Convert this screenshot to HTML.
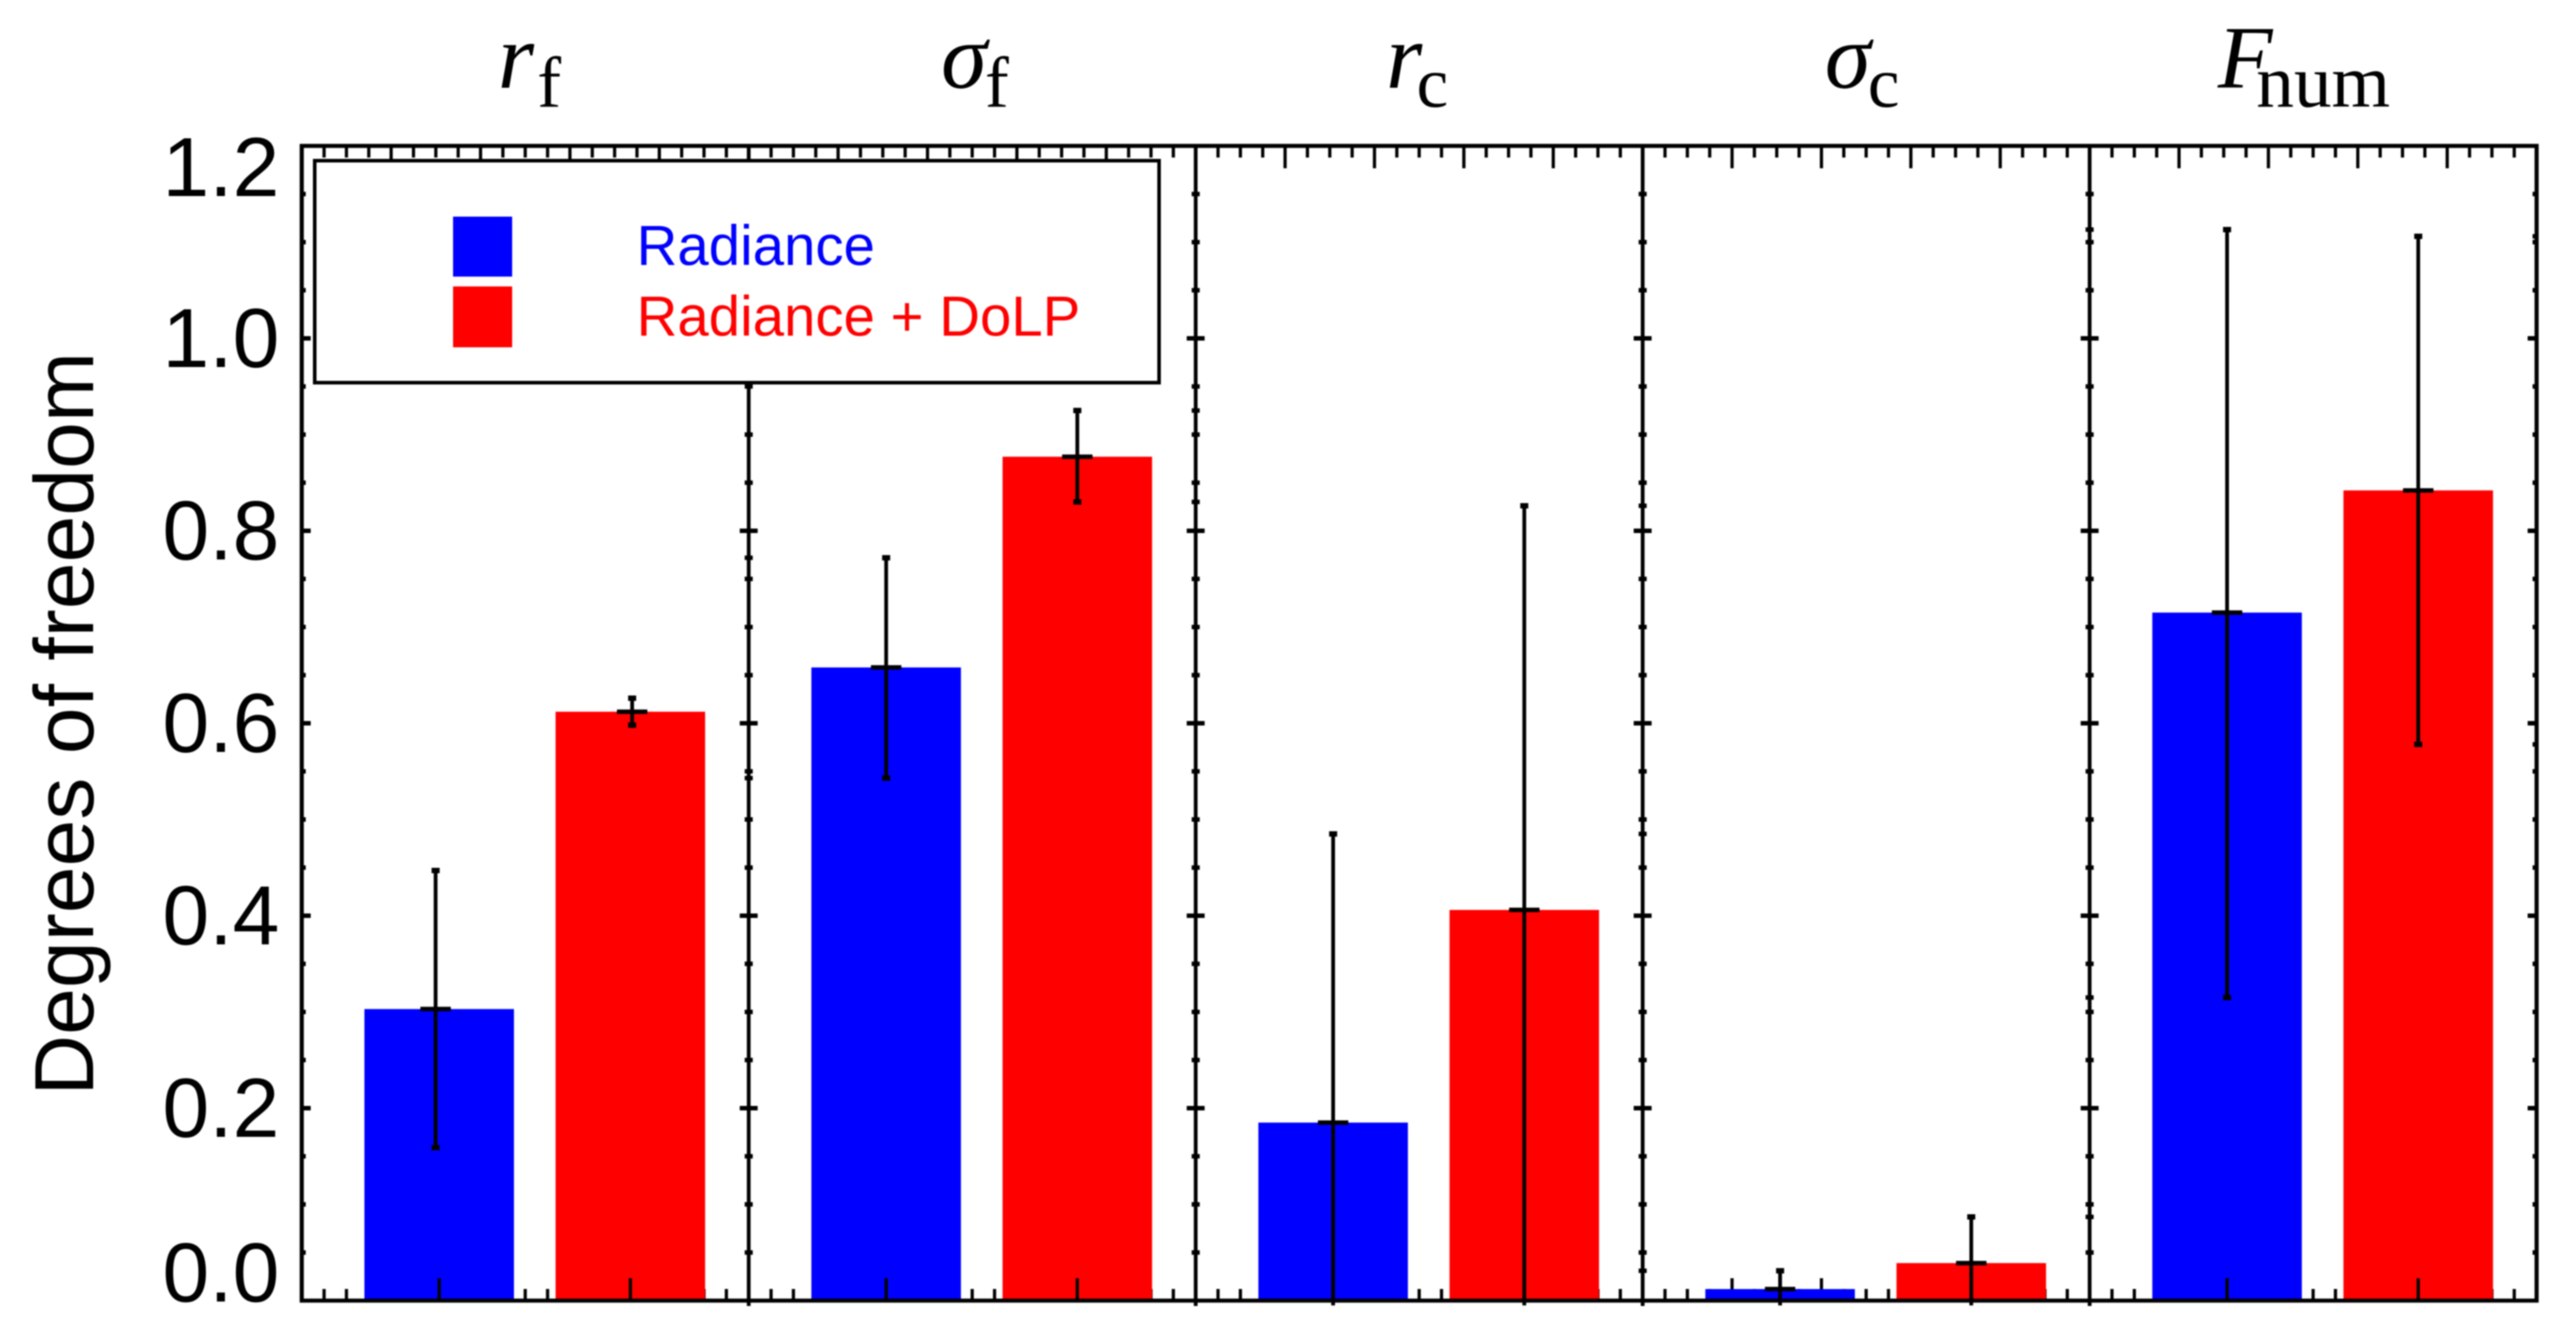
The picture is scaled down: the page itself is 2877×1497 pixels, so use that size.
<!DOCTYPE html>
<html lang="en">
<head>
<meta charset="utf-8">
<title>Degrees of freedom by parameter</title>
<style>
  html, body { margin: 0; padding: 0; background: #fff; }
  body { width: 2877px; height: 1497px; overflow: hidden; }
  svg { display: block; filter: blur(0.7px); }
  .sans { font-family: "Liberation Sans", Arial, sans-serif; }
  .serif { font-family: "Liberation Serif", "Times New Roman", serif; fill: #000; }
</style>
</head>
<body>
<svg id="chart" xmlns="http://www.w3.org/2000/svg" width="2877" height="1497" viewBox="0 0 2877 1497">
  <rect x="0" y="0" width="2877" height="1497" fill="#fff"/>
  <g id="frame-layer"></g>
  <g id="bar-layer"></g>
  <g id="front-layer"></g>

  <g id="legend">
    <rect x="351.5" y="179.5" width="943" height="248" fill="#fff" stroke="#000" stroke-width="4"/>
    <rect x="506" y="242" width="66" height="67" fill="#0000ff"/>
    <rect x="506" y="320" width="66" height="68" fill="#ff0000"/>
    <text class="sans" x="711" y="296" font-size="63" fill="#0000ff">Radiance</text>
    <text class="sans" x="711" y="375" font-size="63" fill="#ff0000">Radiance + DoLP</text>
  </g>

  <g>
    <g>
      <text class="serif" x="556" y="98" font-size="104" font-style="italic">r</text>
      <text class="serif" x="600" y="119" font-size="80">f</text>
    </g>
    <g>
      <text class="serif" x="1051" y="98" font-size="104" font-style="italic">σ</text>
      <text class="serif" x="1100" y="119" font-size="80">f</text>
    </g>
    <g>
      <text class="serif" x="1548" y="98" font-size="104" font-style="italic">r</text>
      <text class="serif" x="1582" y="119" font-size="80">c</text>
    </g>
    <g>
      <text class="serif" x="2038" y="98" font-size="104" font-style="italic">σ</text>
      <text class="serif" x="2086" y="119" font-size="80">c</text>
    </g>
    <g>
      <text class="serif" x="2477" y="98" font-size="100" font-style="italic">F</text>
      <text class="serif" x="2520" y="119" font-size="84">num</text>
    </g>
  </g>

  <text class="sans" transform="translate(104 1224) rotate(-90)" x="0" y="0" font-size="94" fill="#000">Degrees of freedom</text>
</svg>

<script>
const categories = ["r_f", "sigma_f", "r_c", "sigma_c", "F_num"];
const radianceValues = [0.303, 0.658, 0.185, 0.012, 0.715];
const radianceDolpValues = [0.612, 0.877, 0.406, 0.039, 0.842];
const radianceUpper = [0.447, 0.772, 0.485, 0.031, 1.113];
const radianceLower = [0.159, 0.543, -0.005, -0.005, 0.315];
const radianceDolpUpper = [0.626, 0.925, 0.826, 0.087, 1.106];
const radianceDolpLower = [0.598, 0.830, -0.005, -0.005, 0.578];
const yTickLabels = ["0.0", "0.2", "0.4", "0.6", "0.8", "1.0", "1.2"];
const yTickValues = [0, 0.2, 0.4, 0.6, 0.8, 1.0, 1.2];
const seriesNames = ["radiance", "radiance-dolp"];
const seriesColors = ["#0000ff", "#ff0000"];

const NS = "http://www.w3.org/2000/svg";
const PLOT = { left: 337, top: 163, bottom: 1453, panelWidth: 499.2, barWidth: 167 };
const yMax = 1.2;

function yScale(v) {
  return PLOT.bottom - (v / yMax) * (PLOT.bottom - PLOT.top);
}
function panelX(p) {
  return PLOT.left + p * PLOT.panelWidth;
}
function barX(p, s) {
  return panelX(p) + 153.5 + s * 213.5;
}

function make(parent, tag, attrs) {
  const el = document.createElementNS(NS, tag);
  for (const k in attrs) el.setAttribute(k, attrs[k]);
  parent.appendChild(el);
  return el;
}
function pathOf(parent, d, width) {
  return make(parent, "path", { d: d, fill: "none", stroke: "#000", "stroke-width": width });
}

const frameLayer = document.getElementById("frame-layer");
const barLayer = document.getElementById("bar-layer");
const frontLayer = document.getElementById("front-layer");
const rightEdge = panelX(categories.length);

/* y-axis tick labels */
yTickValues.forEach(function (v, i) {
  const baseline = Math.min(1454, Math.max(219, yScale(v) + 32));
  const label = make(frameLayer, "text", {
    x: 312, y: baseline, "text-anchor": "end", "font-size": 94, fill: "#000", class: "sans"
  });
  
  
  label.textContent = yTickLabels[i];
});

/* top and bottom ticks for every panel (drawn beneath the bars) */
let xTickD = "";
const minorPerPanel = 20;
for (let k = 0; k <= minorPerPanel * categories.length; k++) {
  if (k % minorPerPanel === 0) continue;
  const x = PLOT.left + k * PLOT.panelWidth / minorPerPanel;
  const len = k % 4 === 0 ? 25 : 13;
  xTickD += "M" + x + " " + PLOT.top + "v" + len + "M" + x + " " + PLOT.bottom + "v-" + len;
}
const xTicks = pathOf(frameLayer, xTickD, 3.6);



/* y ticks on the outer axes and panel dividers */
let yTickD = "";
for (let m = 1; m < 24; m++) {
  const y = yScale(m * 0.05);
  const half = m % 4 === 0 ? 10 : 4.5;
  for (let d = 0; d <= categories.length; d++) {
    const x = panelX(d);
    const left = d === 0 ? 0 : half;
    const right = d === categories.length ? 0 : half;
    yTickD += "M" + (x - left) + " " + y + "H" + (x + right);
  }
}
const yTicks = pathOf(frameLayer, yTickD, 5);



/* bars */
categories.forEach(function (cat, p) {
  [radianceValues, radianceDolpValues].forEach(function (series, s) {
    const yTop = yScale(series[p]);
    const bar = make(barLayer, "rect", {
      x: barX(p, s) - PLOT.barWidth / 2,
      y: yTop,
      width: PLOT.barWidth,
      height: PLOT.bottom - yTop,
      fill: seriesColors[s]
    });
    
    
  });
});

/* frame and panel dividers */
let dividerD = "";
for (let d = 1; d < categories.length; d++) {
  dividerD += "M" + panelX(d) + " " + PLOT.top + "V" + (PLOT.bottom + 6);
}
const dividers = pathOf(frontLayer, dividerD, 4.2);



const frameLine = pathOf(frontLayer,
  "M" + PLOT.left + " " + PLOT.bottom + "V" + PLOT.top + "H" + rightEdge + "V" + PLOT.bottom + "Z", 4.6);



/* bar-centre ticks rising from the axis */
let barTickD = "";
categories.forEach(function (cat, p) {
  [0, 1].forEach(function (s) {
    barTickD += "M" + barX(p, s) + " " + PLOT.bottom + "v-25";
  });
});
const barTicks = pathOf(frontLayer, barTickD, 3.6);



/* error bars, with the echo dots the original leaves on the nearest divider */
const upperBySeries = [radianceUpper, radianceDolpUpper];
const lowerBySeries = [radianceLower, radianceDolpLower];
const valuesBySeries = [radianceValues, radianceDolpValues];
const dividerEcho = [[null, null], [1, 2], [3, 3], [3, 4], [4, 5]];

categories.forEach(function (cat, p) {
  [0, 1].forEach(function (s) {
    const nudge = p === 0 ? (s === 0 ? -4 : 2) : 0;
    const x = barX(p, s) + nudge;
    const yHi = yScale(upperBySeries[s][p]);
    const yLo = yScale(lowerBySeries[s][p]);
    const yMid = yScale(valuesBySeries[s][p]);
    const stem = pathOf(frontLayer, "M" + x + " " + yHi + "V" + yLo, 4.2);
    
    

    const endD = "M" + (x - 4.5) + " " + yHi + "h9" +
      (lowerBySeries[s][p] > 0 ? "M" + (x - 4.5) + " " + yLo + "h9" : "");
    const ends = pathOf(frontLayer, endD, 6);
    
    

    const cap = pathOf(frontLayer, "M" + (x - 17) + " " + yMid + "h34", 5);
    
    

    const div = dividerEcho[p][s];
    if (div !== null) {
      const dx = panelX(div);
      const rightOnly = div === categories.length;
      const echoD = "M" + (dx - 4.5) + " " + yHi + "H" + (dx + (rightOnly ? 0 : 4.5)) +
        (lowerBySeries[s][p] > 0 ? "M" + (dx - 4.5) + " " + yLo + "H" + (dx + (rightOnly ? 0 : 4.5)) : "");
      const echo = pathOf(frontLayer, echoD, 5);
      
      
    }
  });
});
</script>
</body>
</html>
